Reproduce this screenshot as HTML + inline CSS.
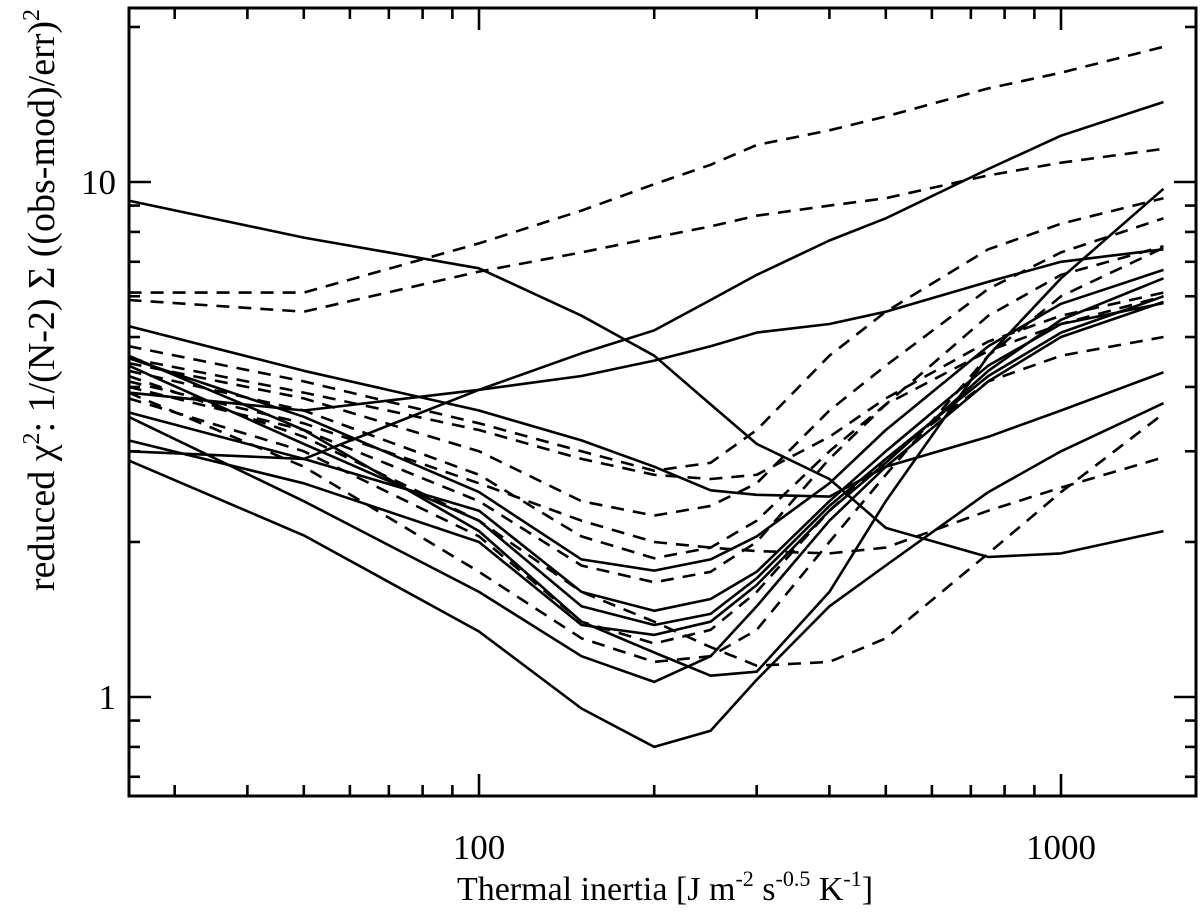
<!DOCTYPE html>
<html><head><meta charset="utf-8"><style>
html,body{margin:0;padding:0;background:#fff;}
svg{display:block;font-family:"Liberation Serif","DejaVu Serif",serif;}
</style></head><body>
<svg id="chart" width="1200" height="924" viewBox="0 0 1200 924" xmlns="http://www.w3.org/2000/svg">
<g id="series"></g>
<g id="axes"></g>
<text x="665" y="900" font-size="34" text-anchor="middle">Thermal inertia [J m<tspan font-size="22" dy="-14">-2</tspan><tspan dy="14"> s</tspan><tspan font-size="22" dy="-14">-0.5</tspan><tspan dy="14"> K</tspan><tspan font-size="22" dy="-14">-1</tspan><tspan dy="14">]</tspan></text>
<text transform="translate(54,300) rotate(-90)" font-size="38" text-anchor="middle">reduced χ<tspan font-size="24" dy="-15">2</tspan><tspan dy="15">: 1/(N-2) Σ ((obs-mod)/err)</tspan><tspan font-size="24" dy="-15">2</tspan></text>
</svg>
<script>
const xGrid = [25,50,100,150,200,250,300,400,500,750,1000,1500];
const solidS1 = [9.2,7.8,6.8,5.5,4.6,3.7,3.1,2.65,2.13,1.87,1.9,2.1];
const solidS2 = [3.0,2.9,3.95,4.65,5.15,5.9,6.6,7.7,8.5,10.6,12.3,14.3];
const solidS3 = [3.9,3.6,3.95,4.2,4.5,4.8,5.1,5.3,5.6,6.4,7.0,7.4];
const solidS4 = [5.25,4.3,3.6,3.15,2.8,2.52,2.47,2.45,2.8,3.2,3.6,4.27];
const solidS5 = [2.88,2.06,1.34,0.95,0.8,0.86,1.08,1.5,1.8,2.5,3.0,3.72];
const solidS6 = [3.5,2.4,1.6,1.2,1.07,1.2,1.5,2.2,2.8,4.1,5.0,5.85];
const solidS7 = [4.6,3.3,2.1,1.4,1.22,1.1,1.12,1.6,2.4,4.6,6.5,9.7];
const solidS8 = [4.55,3.5,2.5,1.85,1.76,1.85,2.05,2.6,3.3,4.8,5.8,6.75];
const solidS9 = [3.57,2.9,2.3,1.6,1.47,1.55,1.75,2.4,3.0,4.4,5.3,5.82];
const solidS10 = [4.4,3.1,2.2,1.5,1.38,1.45,1.7,2.35,2.9,4.2,5.1,6.0];
const solidS11 = [3.15,2.6,2.0,1.38,1.32,1.4,1.65,2.3,2.85,4.3,5.4,6.5];
const dashD1 = [6.1,6.1,7.6,8.8,9.9,10.8,11.8,12.6,13.4,15.2,16.3,18.3];
const dashD2 = [5.9,5.6,6.7,7.3,7.8,8.2,8.6,9.0,9.3,10.3,10.9,11.6];
const dashD3 = [4.8,4.1,3.4,3.0,2.75,2.85,3.3,4.6,5.6,7.4,8.3,9.3];
const dashD4 = [4.55,3.9,3.3,2.9,2.7,2.65,2.7,3.2,3.8,4.9,5.5,6.1];
const dashD5 = [4.45,3.8,3.0,2.4,2.25,2.35,2.6,3.6,4.4,6.2,7.3,8.5];
const dashD6 = [4.3,3.6,2.7,2.05,1.86,1.95,2.2,3.0,3.7,4.7,5.3,6.0];
const dashD7 = [4.1,3.4,2.6,2.2,2.0,1.95,1.92,1.9,1.95,2.3,2.55,2.92];
const dashD8 = [4.0,3.3,2.4,1.8,1.67,1.75,2.0,2.9,3.7,5.5,6.6,7.5];
const dashD9 = [3.8,3.0,2.05,1.4,1.27,1.35,1.6,2.3,2.9,4.1,4.6,5.0];
const dashD10 = [3.9,2.8,1.75,1.3,1.17,1.2,1.35,2.0,2.7,4.6,6.0,7.45];
const dashD11 = [4.2,3.2,2.2,1.6,1.4,1.25,1.15,1.17,1.3,1.9,2.5,3.55];
const xTickMajor = [100,1000];
const xTickMinor = [30,40,50,60,70,80,90,200,300,400,500,600,700,800,900];
const yTickMajor = [1,10];
const yTickMinor = [0.7,0.8,0.9,2,3,4,5,6,7,8,9,20];

const L=129,R=1196,T=8,B=796;
function xs(v){return 479+582*Math.log10(v/100);}
function ys(v){return 697-515*Math.log10(v);}
const NS="http://www.w3.org/2000/svg";
const sg=document.getElementById('series');
const ag=document.getElementById('axes');
const solids=[solidS1,solidS2,solidS3,solidS4,solidS5,solidS6,solidS7,solidS8,solidS9,solidS10,solidS11];
const dashes=[dashD1,dashD2,dashD3,dashD4,dashD5,dashD6,dashD7,dashD8,dashD9,dashD10,dashD11];
function draw(arr,dashed,i){
  const p=document.createElementNS(NS,'path');
  let d='';
  arr.forEach((v,k)=>{d+=(k?'L':'M')+xs(xGrid[k]).toFixed(1)+','+ys(v).toFixed(1);});
  p.setAttribute('d',d);
  p.setAttribute('fill','none');
  p.setAttribute('stroke','#000');
  p.setAttribute('stroke-width','2.6');
  p.setAttribute('stroke-linejoin','round');
  if(dashed)p.setAttribute('stroke-dasharray','13,9');
  
  
  sg.appendChild(p);
}
solids.forEach((a,i)=>draw(a,false,i));
dashes.forEach((a,i)=>draw(a,true,i));
const frame=document.createElementNS(NS,'rect');
frame.setAttribute('x',L);frame.setAttribute('y',T);frame.setAttribute('width',R-L);frame.setAttribute('height',B-T);
frame.setAttribute('fill','none');frame.setAttribute('stroke','#000');frame.setAttribute('stroke-width','3');


ag.appendChild(frame);
function ln(x1,y1,x2,y2,name){
  const l=document.createElementNS(NS,'line');
  l.setAttribute('x1',x1);l.setAttribute('y1',y1);l.setAttribute('x2',x2);l.setAttribute('y2',y2);
  l.setAttribute('stroke','#000');l.setAttribute('stroke-width','2.6');
  
  
  ag.appendChild(l);
}
function tx(x,y,s,anchor,name){
  const t=document.createElementNS(NS,'text');
  t.setAttribute('x',x);t.setAttribute('y',y);t.setAttribute('font-size','35');t.setAttribute('text-anchor',anchor);
  t.textContent=s;
  
  
  ag.appendChild(t);
}
xTickMajor.forEach(v=>{const x=xs(v);ln(x,B,x,B-22,'x-major-tick');ln(x,T,x,T+22,'x-major-tick-top');tx(x,859,String(v),'middle','x-tick-label');});
xTickMinor.forEach(v=>{const x=xs(v);ln(x,B,x,B-11,'x-minor-tick');ln(x,T,x,T+11,'x-minor-tick-top');});
yTickMajor.forEach(v=>{const y=ys(v);ln(L,y,L+22,y,'y-major-tick');ln(R,y,R-22,y,'y-major-tick-right');tx(116,y+12,String(v),'end','y-tick-label');});
yTickMinor.forEach(v=>{const y=ys(v);if(y>T&&y<B){ln(L,y,L+11,y,'y-minor-tick');ln(R,y,R-11,y,'y-minor-tick-right');}});
</script>
</body></html>
